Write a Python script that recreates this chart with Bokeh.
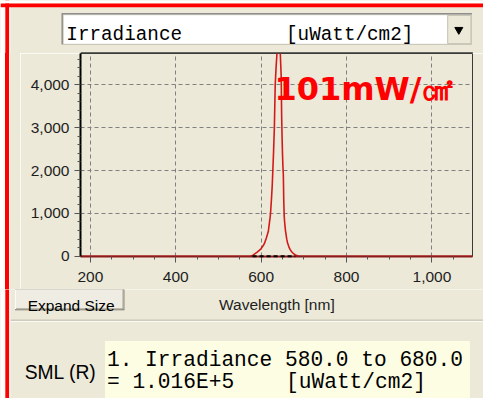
from bokeh.plotting import figure
from bokeh.layouts import column, row
from bokeh.models import Range1d, FixedTicker, NumeralTickFormatter, Label, Div
from bokeh.core.properties import value
from bokeh.embed import file_html
from bokeh.resources import INLINE

# ---- data ----
wavelength_nm = [177, 250, 350, 450, 550, 570, 575, 580, 585, 590, 595, 600,
                 605, 608, 612, 615, 617, 619, 621, 622, 624, 626, 627, 629,
                 631, 632, 633, 635, 637, 639, 641, 643, 645, 647, 648, 649,
                 650, 651, 652, 653, 654, 655, 657, 660, 662, 665, 668, 672,
                 676, 680, 685, 690, 700, 750, 850, 950, 1050, 1095]
irradiance = [0, 0, 0, 0, 0, 0, 5, 20, 55, 90, 130, 180,
              250, 306, 420, 520, 590, 750, 900, 1000, 1300, 1650, 1900, 2400,
              3000, 3500, 4000, 4400, 4720, 4950, 5050, 4950, 4700, 4200, 3300, 2800,
              2400, 2100, 1900, 1300, 950, 800, 600, 400, 310, 220, 155, 100,
              60, 30, 12, 5, 0, 0, 0, 0, 0, 0]
x_ticks = [200, 400, 600, 800, 1000]
x_minor = [150, 250, 300, 350, 450, 500, 550, 650, 700, 750, 850, 900, 950, 1050, 1100]
y_ticks = [0, 1000, 2000, 3000, 4000]
y_minor = [200, 400, 600, 800, 1200, 1400, 1600, 1800, 2200, 2400, 2600, 2800,
           3200, 3400, 3600, 3800, 4200, 4400, 4600]
band = [580.0, 680.0]
band_level = [0, 0]
band_total = "1.016E+5"
quantity = "Irradiance"
unit = "[uWatt/cm2]"
x_title = "Wavelength [nm]"
power_note = "101mW/\u33a0"

BG = "#ECE9D8"
RED = "#ff0000"
W, H = 483, 398
SX, SY = W / 499.0, H / 415.0     # reference window -> canvas


def X(v):
    return v * SX


def Y(v):
    return v * SY


TOP_H = 53            # chrome strip above the chart
STRIP_W = 20          # chrome strip left of the chart
FRAME_L, FRAME_W, FRAME_H = 80, 392, 203
MID_BOTTOM_BORDER = 33
MID_H = FRAME_H + MID_BOTTOM_BORDER
BOT_H = H - TOP_H - MID_H
Y_MID = TOP_H
Y_BOT = TOP_H + MID_H
FRAME_B = TOP_H + FRAME_H


def chrome(width, height, y0):
    """A figure whose frame is the whole canvas; data units = canvas pixels (y down)."""
    f = figure(width=width, height=height, output_backend="svg", toolbar_location=None,
               title=None, x_axis_type=None, y_axis_type=None,
               x_range=Range1d(0, width), y_range=Range1d(y0 + height, y0),
               min_border=0, min_border_left=0, min_border_right=0,
               min_border_top=0, min_border_bottom=0,
               background_fill_color=BG, border_fill_color=BG, outline_line_color=None)
    f.grid.visible = False
    return f


def rect(f, x0, y0, x1, y1, fill, line=None, lw=1):
    f.quad(left=[X(x0)], right=[X(x1)], top=[Y(y0)], bottom=[Y(y1)],
           fill_color=fill, line_color=line, line_width=lw)


def txt(f, x, y, s, size, font="Liberation Sans", color="black", align="left",
        baseline="alphabetic", style="normal"):
    f.text(x=[X(x)], y=[Y(y)], text=[s], text_font=value(font), text_font_size=value(size),
           text_color=color, text_align=align, text_baseline=baseline,
           text_font_style=style)


def window_edge(f):
    rect(f, 0, 0, 5, 430, "white")
    rect(f, 5, 0, 9, 430, RED)
    rect(f, 9, 0, 10.5, 430, "#f7f6f0")


# ---------------- top chrome ----------------
top = chrome(W, TOP_H, 0)
window_edge(top)
rect(top, 0, 0, 520, 3, "white")
rect(top, 0, 3, 520, 7, RED)
rect(top, 63, 13, 487, 46, "#8d8d8d")
rect(top, 64.5, 14.5, 487, 46, "#d8d5c8")
rect(top, 65.5, 15.5, 486, 45, "white")
rect(top, 462, 15.5, 486, 45, BG, "#c4c0b0", 1)
top.scatter([X(473.5)], [Y(30.5)], marker="inverted_triangle", size=8,
            fill_color="black", line_color="black")
txt(top, 68, 36, quantity, "19.3px", font="Liberation Mono")
txt(top, 295, 36, unit, "19.3px", font="Liberation Mono")
rect(top, 83, 54, 488, 56, "#3a3a3a")

# ---------------- left strip (window edge beside the chart) ----------------
e1, e2, e3 = X(5), X(9), X(10.5)
strip = Div(text="", width=STRIP_W, height=MID_H, margin=0,
            styles={"background": "linear-gradient(to right, #ffffff 0px, #ffffff %.1fpx, "
                                   "%s %.1fpx, %s %.1fpx, #f7f6f0 %.1fpx, #f7f6f0 %.1fpx, "
                                   "%s %.1fpx, %s 100%%)" % (e1, RED, e1, RED, e2, e2, e3,
                                                             BG, e3, BG)})

# ---------------- main chart ----------------
p = figure(width=W - STRIP_W, height=MID_H, output_backend="svg", toolbar_location=None,
           title=None, x_range=Range1d(177, 1095), y_range=Range1d(-5, 4730),
           min_border_left=FRAME_L - STRIP_W, min_border_right=W - FRAME_L - FRAME_W,
           min_border_top=0, min_border_bottom=MID_BOTTOM_BORDER,
           background_fill_color=BG, border_fill_color=BG,
           outline_line_color="#3a3a3a", outline_line_width=1)

p.line(wavelength_nm, irradiance, line_color="#d21a1a", line_width=1.6)
p.line(band, band_level, line_color="black", line_width=2, line_dash="4 3", level="overlay")

for ax in (p.xaxis[0], p.yaxis[0]):
    ax.formatter = NumeralTickFormatter(format="0,0")
    ax.major_label_text_font = "Liberation Sans"
    ax.major_label_text_font_size = "15.5px"
    ax.major_label_text_color = "#1e1e1e"
    ax.major_tick_in = 0
    ax.major_tick_out = 6
    ax.minor_tick_in = 0
    ax.minor_tick_out = 3
    ax.major_tick_line_color = "#555555"
    ax.minor_tick_line_color = "#555555"

p.xaxis.ticker = FixedTicker(ticks=x_ticks, minor_ticks=x_minor)
p.yaxis.ticker = FixedTicker(ticks=y_ticks, minor_ticks=y_minor)
p.xaxis.major_label_standoff = 9
p.yaxis.major_label_standoff = 5
p.xaxis.axis_line_color = "#8b1a1a"
p.xaxis.axis_line_width = 2
p.yaxis.axis_line_color = "black"
p.yaxis.axis_line_width = 2

p.grid.grid_line_color = "#808080"
p.grid.grid_line_dash = "4 3"
p.grid.grid_line_width = 1

# red power annotation inside the plot frame (screen units from frame bottom-left)
p.add_layout(Label(x=X(283) - FRAME_L, y=FRAME_B - Y(92),
                   x_units="screen", y_units="screen", text=power_note,
                   text_font="DejaVu Sans", text_font_size="32px", text_font_style="bold",
                   text_color=RED, text_baseline="alphabetic"))

# ---------------- bottom chrome ----------------
bot = chrome(W, BOT_H, Y_BOT)
window_edge(bot)
# button with 3D edges
rect(bot, 15, 299, 128, 323, "#716F64")
rect(bot, 15, 299, 127, 322, "white")
rect(bot, 16, 300, 127, 322, "#ACA899")
rect(bot, 16, 300, 126, 321, "#EFEDE3")
txt(bot, 73, 318, "Expand Size", "15.5px", align="center")
txt(bot, 285.5, 316.5, x_title, "15.5px", align="center", color="#1e1e1e")
rect(bot, 10.5, 333, 520, 334, "#ACA899")
rect(bot, 10.5, 334, 520, 335, "#ffffff")
rect(bot, 108, 355, 485, 430, "#FDFDE3")
txt(bot, 25, 388, "SML (R)", "19.3px")
txt(bot, 110, 375, "1. %s %.1f to %.1f" % (quantity, band[0], band[1]), "21.2px",
    font="Liberation Mono")
txt(bot, 110, 398, "= %s" % band_total, "21.2px", font="Liberation Mono")
txt(bot, 295, 398, unit, "21.2px", font="Liberation Mono")

layout = column(top, row(strip, p), bot)
open("out.html", "w").write(file_html(layout, INLINE))
